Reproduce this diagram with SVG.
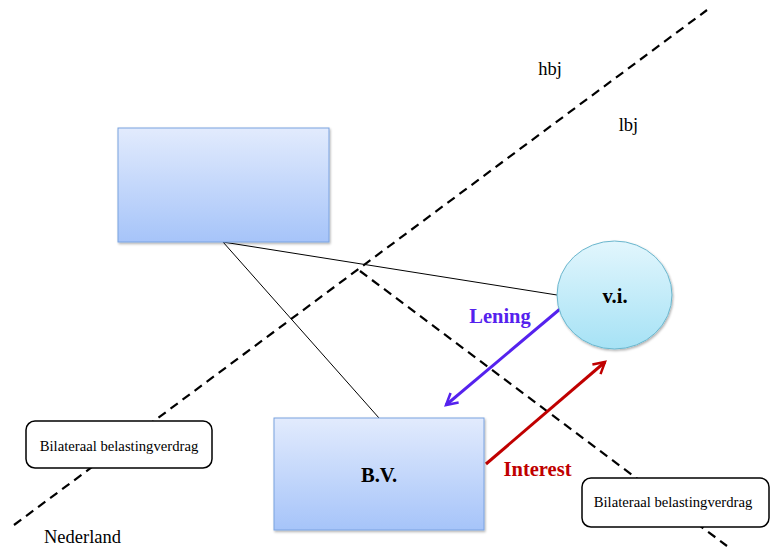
<svg xmlns="http://www.w3.org/2000/svg" width="772" height="548" viewBox="0 0 772 548">
  <style>
    .serif { font-family: "Liberation Serif", "Times New Roman", serif; }
    .dash { fill: none; stroke: #000; stroke-width: 2.2; stroke-dasharray: 9 6; }
    .thin { fill: none; stroke: #000; stroke-width: 1; }
    .box { fill: url(#boxFill); stroke: #7aa3e0; stroke-width: 1; }
    .note { fill: #fff; stroke: #000; stroke-width: 1.5; }
    .noteText { font-size: 14.7px; fill: #000; }
    .label { font-size: 18.5px; fill: #000; }
    .bold { font-weight: bold; font-size: 20.5px; }
  </style>
  <defs>
    <linearGradient id="boxFill" x1="0" y1="0" x2="0" y2="1">
      <stop offset="0" stop-color="#e2ebfd"/>
      <stop offset="1" stop-color="#a6c4f9"/>
    </linearGradient>
    <linearGradient id="circleFill" x1="0" y1="0" x2="0" y2="1">
      <stop offset="0" stop-color="#e2f6fd"/>
      <stop offset="1" stop-color="#a6e2f5"/>
    </linearGradient>
    <filter id="shadow" x="-10%" y="-10%" width="130%" height="130%">
      <feDropShadow dx="1" dy="1.5" stdDeviation="1.2" flood-color="#000" flood-opacity="0.3"/>
    </filter>
    <marker id="arrowPurple" viewBox="0 0 12 12" refX="10" refY="6" markerWidth="5" markerHeight="5" orient="auto-start-reverse" markerUnits="strokeWidth">
      <path d="M1,1 L10,6 L1,11" fill="none" stroke="#5522ee" stroke-width="2"/>
    </marker>
    <marker id="arrowRed" viewBox="0 0 12 12" refX="10" refY="6" markerWidth="5" markerHeight="5" orient="auto-start-reverse" markerUnits="strokeWidth">
      <path d="M1,1 L10,6 L1,11" fill="none" stroke="#c00000" stroke-width="2"/>
    </marker>
  </defs>

  <rect width="772" height="548" fill="#fff"/>

  <!-- borders -->
  <g id="borders">
    <line class="dash" x1="14" y1="525" x2="707" y2="10"/>
    <line class="dash" x1="360" y1="271" x2="727" y2="546"/>
  </g>

  <!-- connectors -->
  <g id="connectors">
    <line class="thin" x1="223" y1="242" x2="557" y2="295"/>
    <line class="thin" x1="223" y1="242" x2="379" y2="418"/>
    <line x1="560" y1="309" x2="446" y2="405" stroke="#5522ee" stroke-width="3" marker-end="url(#arrowPurple)"/>
    <line x1="486" y1="464" x2="605" y2="362" stroke="#c00000" stroke-width="3" marker-end="url(#arrowRed)"/>
    <text class="serif bold" x="500" y="323" text-anchor="middle" fill="#5522ee">Lening</text>
    <text class="serif bold" x="537.5" y="476" text-anchor="middle" fill="#c00000">Interest</text>
  </g>

  <g id="parent">
    <rect class="box" x="118" y="128" width="211" height="114" filter="url(#shadow)"/>
  </g>

  <g id="vi">
    <ellipse cx="614.5" cy="295" rx="57.5" ry="54" fill="url(#circleFill)" stroke="#6bb6cd" stroke-width="1" filter="url(#shadow)"/>
    <text class="serif bold" x="615" y="303" text-anchor="middle" fill="#000" font-size="19">v.i.</text>
  </g>

  <g id="bv">
    <rect class="box" x="274" y="418" width="210" height="112" filter="url(#shadow)"/>
    <text class="serif bold" x="379" y="482" text-anchor="middle" fill="#000" font-size="19.5">B.V.</text>
  </g>

  <g id="treaty-left">
    <rect class="note" x="26" y="421" width="186" height="47" rx="9"/>
    <text class="serif noteText" x="119" y="451" text-anchor="middle">Bilateraal belastingverdrag</text>
  </g>

  <g id="treaty-right">
    <rect class="note" x="582" y="478" width="187" height="49" rx="9"/>
    <text class="serif noteText" x="673" y="507" text-anchor="middle">Bilateraal belastingverdrag</text>
  </g>

  <g id="labels">
    <text class="serif label" x="550" y="75" text-anchor="middle">hbj</text>
    <text class="serif label" x="628.5" y="131" text-anchor="middle">lbj</text>
    <text class="serif label" x="82.5" y="543" text-anchor="middle">Nederland</text>
  </g>
</svg>
